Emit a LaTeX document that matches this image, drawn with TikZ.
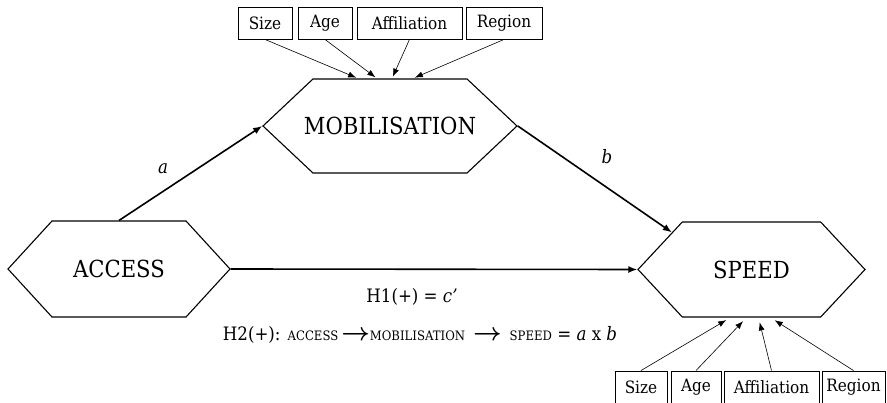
\documentclass[tikz,border=0pt]{standalone}
\usepackage{amsmath}
\usepackage{fontspec}
\setmainfont{DejaVu Serif Condensed}
\usetikzlibrary{shapes.symbols,arrows.meta}

\newcommand{\hexfont}{\fontsize{23.5}{27}\selectfont}
\newcommand{\boxfont}{\fontsize{17}{20}\selectfont}
\newcommand{\hypfont}{\fontsize{18.5}{22}\selectfont}
\newcommand{\capfont}{\fontsize{13}{15}\selectfont}
\newcommand{\hyparrow}{{\fontsize{24}{24}\selectfont$\boldsymbol{\rightarrow}$}}

\tikzset{
  hexnode/.style={signal, signal to=west and east, draw, line width=1.1pt,
    inner ysep=0pt, inner xsep=-30pt, font=\hexfont},
  varbox/.style={draw, line width=0.9pt, minimum height=32pt, inner sep=0pt, font=\boxfont},
  mainarrow/.style={line width=1.6pt, -{Latex[length=9pt,width=7pt]}},
  ctrlarrow/.style={line width=0.6pt, -{Latex[length=8pt,width=6pt]}, shorten >=2pt}
}

\begin{document}
\begin{tikzpicture}[x=1pt, y=-1pt]
        \useasboundingbox (0,0) rectangle (887,403);
        % hexagons
        \node[hexnode, minimum width=254pt, minimum height=94pt, signal pointer angle=86.5] (mob) at (390, 126) {MOBILISATION};
        \node[hexnode, minimum width=222pt, minimum height=96pt, signal pointer angle=95] (acc) at (119, 269) {ACCESS};
        \node[hexnode, minimum width=227pt, minimum height=95pt, signal pointer angle=94] (spd) at (751.5, 269.5) {SPEED};

        % controls above
        \node[varbox, minimum width=54pt] (sizeT) at (265, 23) {Size};
        \node[varbox, minimum width=54pt] (ageT) at (325, 23) {Age};
        \node[varbox, minimum width=105pt] (affT) at (409.5, 23) {Affiliation};
        \node[varbox, minimum width=76pt] (regT) at (504, 23) {Region};

        % controls below
        \node[varbox, minimum width=52pt] (sizeB) at (641, 387) {Size};
        \node[varbox, minimum width=50pt] (ageB) at (696, 387) {Age};
        \node[varbox, minimum width=95pt] (affB) at (771.5, 387) {Affiliation};
        \node[varbox, minimum width=63pt] (regB) at (853.5, 387) {Region};

        % paths
        \draw[mainarrow] (acc.north) -- (mob.west);
        \draw[mainarrow] (mob.east) -- (spd.155);
        \draw[mainarrow] (acc.east) -- (spd.west);

        \draw[ctrlarrow] (sizeT.south) -- ([xshift=-32pt]mob.north);
        \draw[ctrlarrow] (ageT.south) -- ([xshift=-13pt]mob.north);
        \draw[ctrlarrow] (affT.south) -- ([xshift=2pt]mob.north);
        \draw[ctrlarrow] (regT.south) -- ([xshift=23pt]mob.north);

        \draw[ctrlarrow, shorten >=5pt] (sizeB.north) -- ([xshift=-21pt]spd.south);
        \draw[ctrlarrow, shorten >=5pt] (ageB.north) -- ([xshift=-5pt]spd.south);
        \draw[ctrlarrow, shorten >=5pt] (affB.north) -- ([xshift=7pt]spd.south);
        \draw[ctrlarrow, shorten >=5pt] (regB.north) -- ([xshift=19pt]spd.south);

        % labels
        \node[font=\hypfont\itshape] (la) at (163, 169) {a};
        \node[font=\hypfont\itshape] (lb) at (607, 157) {b};
        \node[font=\hypfont] (hone) at (412, 297) {H1(+) = \textit{c’}};
        \node[font=\hypfont] (htwo) at (420, 335)
          {H2(+): {\capfont ACCESS}\hspace{3pt}\hyparrow{\capfont MOBILISATION}\hspace{8pt}\hyparrow\hspace{8pt}{\capfont SPEED} = \textit{a} x \textit{b}};
\end{tikzpicture}
\end{document}
